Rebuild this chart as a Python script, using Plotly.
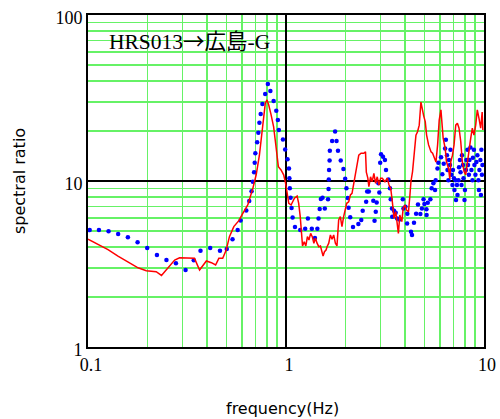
import plotly.graph_objects as go

# Blue series (dots)
blue_f = [0.102, 0.1136, 0.127, 0.142, 0.159, 0.178, 0.199, 0.223, 0.249, 0.278, 0.311, 0.342, 0.370,
          0.414, 0.464, 0.502, 0.537, 0.57, 0.59, 0.63, 0.652, 0.67, 0.68, 0.69, 0.695, 0.70, 0.715,
          0.725, 0.734, 0.745, 0.76, 0.785, 0.81, 0.834, 0.866, 0.893, 0.91, 0.92, 0.965, 0.99, 1.018,
          1.035, 1.04, 1.045, 1.055, 1.067, 1.08, 1.11, 1.18, 1.25, 1.29, 1.35, 1.40, 1.44, 1.46, 1.48,
          1.50, 1.53, 1.57, 1.63, 1.64, 1.645, 1.65, 1.66, 1.665, 1.71, 1.77, 1.80, 1.83, 1.89, 1.95,
          1.99, 2.02, 2.05, 2.07, 2.11, 2.18, 2.32, 2.40, 2.44, 2.54, 2.57, 2.62, 2.76, 2.80, 2.84,
          2.87, 2.93, 2.96, 2.99, 3.02, 3.09, 3.16, 3.20, 3.29, 3.35, 3.38, 3.43, 3.44, 3.51, 3.58,
          3.64, 3.74, 3.89, 3.92, 4.01, 4.09, 4.10, 4.28, 4.33, 4.43, 4.54, 4.64, 4.77, 4.86, 4.95,
          5.00, 5.12, 5.13, 5.20, 5.36, 5.44, 5.55, 5.66, 5.70, 5.82, 5.88, 6.07, 6.16, 6.26, 6.36,
          6.42, 6.50, 6.54, 6.61, 6.65, 6.73, 6.77, 6.85, 6.93, 6.97, 7.05, 7.09, 7.18, 7.22, 7.30,
          7.35, 7.43, 7.48, 7.56, 7.61, 7.70, 7.74, 7.83, 7.88, 7.97, 8.01, 8.11, 8.15, 8.25, 8.30,
          8.39, 8.44, 8.54, 8.64, 8.74, 8.79, 8.89, 8.95, 9.05, 9.16, 9.26, 9.37, 9.43, 9.48, 9.59,
          9.65, 9.70, 9.76, 9.82]
blue_r = [5.07, 5.07, 4.98, 4.80, 4.59, 4.27, 3.95, 3.58, 3.34, 3.19, 2.91, 3.33, 3.80,
          3.95, 3.80, 3.89, 4.45, 5.07, 5.79, 6.64, 7.58, 8.67, 9.9, 11.3, 12.9, 14.7, 17.1,
          19.5, 22.4, 25.3, 29.1, 33.4, 38.4, 34.9, 30.3, 26.5, 23.3, 20.3, 17.8, 15.5, 13.5,
          11.9, 10.4, 9.04, 7.94, 6.88, 6.03, 5.28, 5.07, 5.16, 5.95, 5.16, 4.54, 5.16, 5.95, 6.77,
          7.8, 7.94, 6.84, 7.77, 8.94, 10.2, 11.65, 13.3, 15.2, 17.4, 19.9, 17.4, 15.2, 13.3, 11.8,
          10.3, 9.04, 7.9, 6.9, 6.04, 5.28, 5.50, 5.82, 6.63, 7.49, 8.65, 8.65, 7.61, 5.76, 6.53,
          7.43, 9.7, 8.53, 12.9, 14.5, 14.0, 13.4, 11.65, 10.2, 9.04, 7.77, 6.83, 6.10, 6.63, 6.44,
          5.95, 5.87, 7.77, 6.83, 7.0, 5.55, 6.34, 4.95, 4.73, 5.6, 6.34, 7.23, 6.33, 6.83, 7.77,
          7.26, 6.75, 6.24, 7.4, 7.77, 9.04, 9.7, 8.83, 10.1, 11.9, 12.9, 13.9, 11.0, 12.7, 15.7,
          17.7, 14.3, 11.65, 10.1, 13.4, 12.5, 15.4, 10.9, 9.46, 11.65, 10.4, 8.83, 10.1, 7.69, 9.46,
          8.24, 10.1, 12.1, 13.4, 11.3, 9.46, 14.3, 12.5, 10.4, 7.69, 8.83, 11.65, 13.4, 15.4, 12.5,
          10.9, 13.4, 15.9, 11.65, 10.1, 13.8, 15.4, 12.5, 10.9, 13.0, 14.3, 10.1, 8.83, 11.65, 13.4,
          8.24, 15.4, 10.9, 12.5]

# Red series (line)
red_f = [0.100, 0.1123, 0.1262, 0.1417, 0.159, 0.179, 0.197, 0.221, 0.235, 0.253, 0.274, 0.290,
         0.326, 0.345, 0.366, 0.396, 0.420, 0.441, 0.458, 0.479, 0.499, 0.518, 0.545, 0.578, 0.605,
         0.641, 0.680, 0.707, 0.734, 0.755, 0.773, 0.786, 0.802, 0.818, 0.841, 0.866, 0.884, 0.901,
         0.915, 0.944, 0.973, 0.992, 1.012, 1.033, 1.061, 1.103, 1.138, 1.159, 1.180, 1.212, 1.236,
         1.259, 1.283, 1.306, 1.332, 1.357, 1.383, 1.409, 1.435, 1.464, 1.493, 1.521, 1.539, 1.564,
         1.593, 1.612, 1.644, 1.676, 1.708, 1.741, 1.776, 1.809, 1.845, 1.881, 1.917, 1.955, 1.995,
         2.026, 2.073, 2.115, 2.155, 2.198, 2.243, 2.285, 2.331, 2.394, 2.471, 2.521, 2.545, 2.590,
         2.621, 2.673, 2.724, 2.779, 2.835, 2.889, 2.947, 3.006, 3.063, 3.161, 3.248, 3.314, 3.380,
         3.444, 3.513, 3.584, 3.652, 3.695, 3.757, 3.847, 3.907, 3.986, 4.061, 4.157, 4.226, 4.275,
         4.356, 4.444, 4.532, 4.617, 4.709, 4.802, 4.893, 4.962, 5.05, 5.13, 5.25, 5.40, 5.50, 5.61,
         5.72, 5.83, 5.94, 6.06, 6.13, 6.22, 6.37, 6.46, 6.62, 6.72, 6.80, 6.93, 7.06, 7.20, 7.34,
         7.48, 7.63, 7.77, 7.93, 8.08, 8.24, 8.40, 8.57, 8.73, 8.90, 9.08, 9.25, 9.43, 9.62, 9.79,
         9.87]
red_r = [4.46, 4.16, 3.86, 3.53, 3.25, 3.00, 2.88, 2.84, 2.70, 2.98, 3.34, 3.45,
         3.42, 3.42, 2.91, 3.30, 3.22, 3.12, 3.42, 3.42, 3.84, 4.62, 5.31, 5.77, 6.39,
         7.17, 9.03, 10.9, 14.3, 18.9, 25.0, 29.4, 30.8, 28.7, 25.0, 21.2, 17.3, 14.3,
         12.2, 11.65, 10.9, 9.9, 8.24, 7.34, 7.17, 7.87, 8.12, 7.34, 6.10, 4.06, 4.31,
         4.06, 4.62, 4.41, 4.84, 4.62, 4.22, 4.52, 4.22, 4.02, 4.06, 3.75, 3.53, 3.75,
         3.84, 4.02, 4.22, 4.73, 4.46, 4.73, 4.22, 4.06, 5.82, 6.10, 5.31, 6.10, 6.85,
         7.34, 7.50, 8.24, 8.43, 9.69, 10.9, 12.2, 14.3, 14.7, 14.7, 15.0, 11.3, 10.4,
         9.24, 10.6, 9.9, 11.1, 9.69, 10.6, 9.46, 10.4, 10.4, 9.9, 10.4, 9.46, 9.03,
         7.50, 5.96, 6.53, 5.43, 4.84, 6.24, 5.69, 6.85, 7.17, 6.69, 6.53, 8.24, 9.9,
         11.4, 14.3, 18.9, 19.8, 21.7, 29.9, 26.2, 24.6, 22.8, 18.9, 16.5, 15.0, 14.7, 13.7,
         13.0, 16.5, 23.3, 26.8, 21.7, 18.1, 15.7, 13.1, 11.9, 10.3, 13.1, 14.3, 16.5, 21.7, 22.3,
         20.8, 17.3, 13.1, 11.4, 10.9, 12.8, 15.7, 18.1, 20.8, 18.9, 21.7, 26.8, 23.9, 20.8, 26.0,
         20.3]

x_decades = [0.1, 1, 10]
x_decade_text = ["0.1", "1", "10"]
y_decades = [1, 10, 100]
y_decade_text = ["1", "10", "100"]

label_code = "HRS013"
label_arrow_station = "→広島"
label_suffix = "-G"
x_title = "frequency(Hz)"
y_title = "spectral ratio"

GREEN = "#66f266"
serif = "Liberation Serif, Noto Sans CJK JP, serif"
cjk = "Noto Sans CJK JP"
sans = "DejaVu Sans, sans-serif"


def grid_ticks(decades, labels):
    vals, text = [], []
    for d, lab in zip(decades, labels):
        vals.append(d)
        text.append(lab)
        if d != decades[-1]:
            for m in range(2, 10):
                vals.append(m * d)
                text.append("")
    return vals, text


xv, xt = grid_ticks(x_decades, x_decade_text)
yv, yt = grid_ticks(y_decades, y_decade_text)

fig = go.Figure()
fig.add_trace(go.Scatter(x=blue_f, y=blue_r, mode="markers",
                         marker=dict(color="#0000ff", size=4.5, line=dict(width=0)),
                         showlegend=False))
fig.add_trace(go.Scatter(x=red_f, y=red_r, mode="lines",
                         line=dict(color="#ff0000", width=1.5),
                         showlegend=False))
# empty trace so the overlay axes (black decade grid) get a subplot
fig.add_trace(go.Scatter(x=[], y=[], xaxis="x2", yaxis="y2", showlegend=False, hoverinfo="skip"))

axis_common = dict(type="log", showline=True, mirror=True, linecolor="black", linewidth=2,
                   showgrid=True, gridcolor=GREEN, gridwidth=1.5, zeroline=False,
                   automargin=False, ticks="", ticklabeloverflow="allow",
                   tickfont=dict(family=serif, size=18, color="black"))

fig.update_layout(
    xaxis=dict(range=[-1, 1], tickvals=xv, ticktext=xt, ticklabelshift=3, **axis_common),
    yaxis=dict(range=[0, 2], tickvals=yv, ticktext=yt, ticklabelshift=3, **axis_common),
    xaxis2=dict(type="log", range=[-1, 1], overlaying="x", anchor="y2", tickvals=x_decades,
                showticklabels=False, ticks="", showline=False, zeroline=False,
                showgrid=True, gridcolor="black", gridwidth=2, automargin=False),
    yaxis2=dict(type="log", range=[0, 2], overlaying="y", anchor="x2", tickvals=y_decades,
                showticklabels=False, ticks="", showline=False, zeroline=False,
                showgrid=True, gridcolor="black", gridwidth=2, automargin=False),
)

label_html = (label_code + "<span style='font-family:" + cjk + "'>" + label_arrow_station
              + "</span>" + label_suffix)
fig.add_annotation(text=label_html, xref="paper", yref="paper", x=0.047, y=0.925,
                   xanchor="left", yanchor="middle", showarrow=False,
                   font=dict(family=serif, size=21.5, color="black"))
fig.add_annotation(text=x_title, xref="paper", yref="paper", x=0.49, y=-0.184,
                   xanchor="center", yanchor="middle", showarrow=False,
                   font=dict(family=sans, size=16, color="black"))
fig.add_annotation(text=y_title, xref="paper", yref="paper", x=-0.174, y=0.5,
                   xanchor="center", yanchor="middle", showarrow=False, textangle=-90,
                   font=dict(family=sans, size=16, color="black"))

fig.update_layout(width=500, height=419, margin=dict(l=88, r=16, t=15, b=72),
                  paper_bgcolor="white", plot_bgcolor="white")

# remove the default 8px page margin so the 500x419 figure fills the window exactly
fig.write_html("out.html", config={"displayModeBar": False, "staticPlot": True},
               post_script="document.body.style.margin='0';")
